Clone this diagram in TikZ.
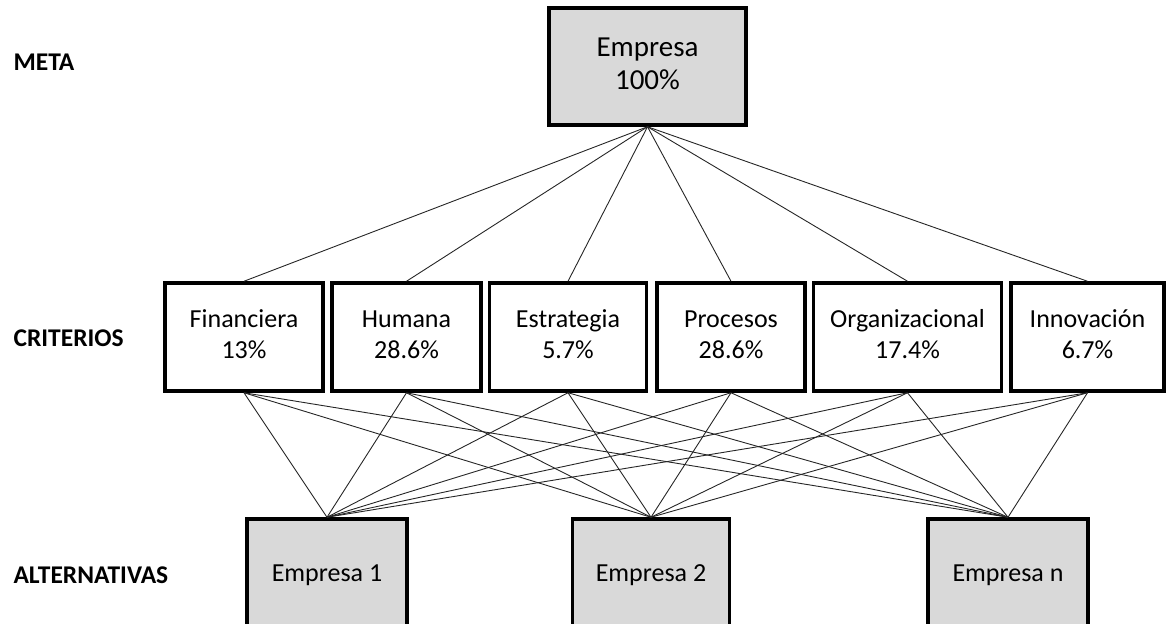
\documentclass[tikz,border=0pt]{standalone}
\usepackage{fontspec}
\setmainfont{Carlito}
\begin{document}
\begin{tikzpicture}[x=1pt,y=-1pt,
  box/.style={draw=black, line width=3.5pt, inner sep=0pt, align=center},
  goalbox/.style={box, fill=boxgray, font=\fontsize{29}{33}\selectfont},
  critbox/.style={box, fill=white, font=\fontsize{26}{31}\selectfont},
  altbox/.style={box, fill=boxgray, font=\fontsize{26}{31}\selectfont},
  level/.style={anchor=west, font=\fontsize{25.5}{28}\selectfont\bfseries},
  link/.style={draw=black!85, line width=0.9pt}]
\definecolor{boxgray}{HTML}{D9D9D9}
\useasboundingbox (0,0) rectangle (1168,624);
\begin{scope}
\clip (0,0) rectangle (1168,624);

% level labels
\node[level] (lmeta) at (10,62) {META};
\node[level] (lcrit) at (10,338) {CRITERIOS};
\node[level] (lalt)  at (10,575) {ALTERNATIVAS};

% goal
\node[goalbox, minimum width=197, minimum height=117] (goal) at (647.5,66.5) {\strut Empresa\\\strut 100\%};

% criteria
\node[critbox, minimum width=158, minimum height=108] (c1) at (244,337) {\strut Financiera\\\strut 13\%};
\node[critbox, minimum width=149, minimum height=108] (c2) at (406.5,337) {\strut Humana\\\strut 28.6\%};
\node[critbox, minimum width=157, minimum height=108] (c3) at (568,337) {\strut Estrategia\\\strut 5.7\%};
\node[critbox, minimum width=148, minimum height=108] (c4) at (731,337) {\strut Procesos\\\strut 28.6\%};
\node[critbox, minimum width=188, minimum height=108] (c5) at (907.5,337) {\strut Organizacional\\\strut 17.4\%};
\node[critbox, minimum width=153, minimum height=108] (c6) at (1087.5,337) {\strut Innovación\\\strut 6.7\%};

% alternatives (run past the lower edge)
\node[altbox, minimum width=160, minimum height=112] (a1) at (327,575) {Empresa 1};
\node[altbox, minimum width=157, minimum height=112] (a2) at (651,575) {Empresa 2};
\node[altbox, minimum width=160, minimum height=112] (a3) at (1008,575) {Empresa n};

% goal to criteria
\foreach \c in {c1,c2,c3,c4,c5,c6}
  \draw[link] (goal.south) -- (\c.north);
% criteria to alternatives
\foreach \c in {c1,c2,c3,c4,c5,c6}
  \foreach \a in {a1,a2,a3}
    \draw[link] (\c.south) -- (\a.north);
\end{scope}
\end{tikzpicture}
\end{document}
